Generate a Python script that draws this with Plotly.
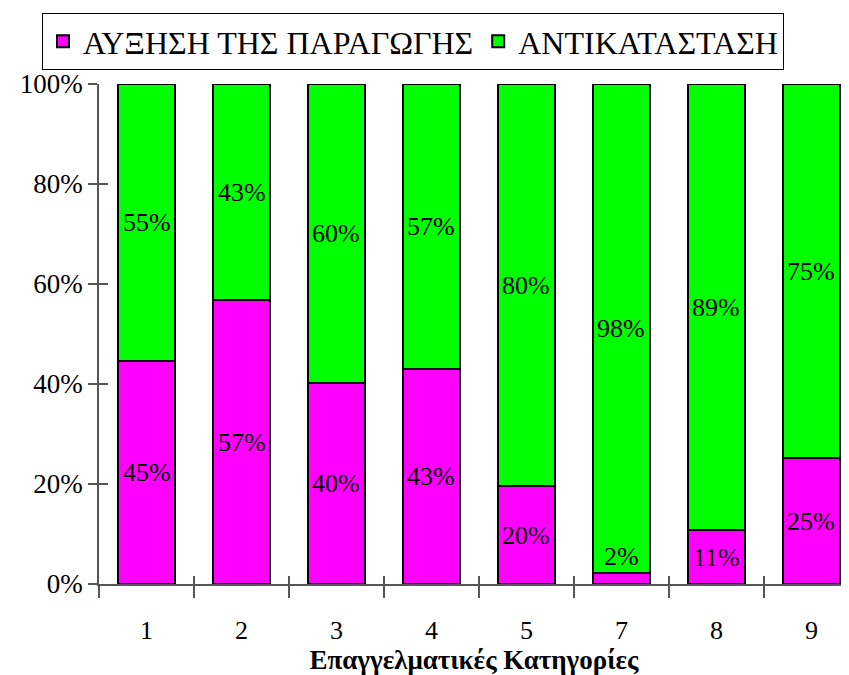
import plotly.graph_objects as go

categories = ["1", "2", "3", "4", "5", "7", "8", "9"]
auxisi = [44.6, 56.8, 40.2, 43.0, 19.6, 2.2, 10.8, 25.2]
antikatastasi = [55.4, 43.2, 59.8, 57.0, 80.4, 97.8, 89.2, 74.8]
y_ticks = [0, 20, 40, 60, 80, 100]
y_ticktext = ["0%", "20%", "40%", "60%", "80%", "100%"]

FONT = "Times New Roman, Liberation Serif, serif"
MAGENTA = "#ff00ff"
GREEN = "#00ff00"

fig = go.Figure()
fig.add_trace(go.Bar(x=categories, y=auxisi, name="ΑΥΞΗΣΗ ΤΗΣ ΠΑΡΑΓΩΓΗΣ",
                     marker=dict(color=MAGENTA, line=dict(color="black", width=2))))
fig.add_trace(go.Bar(x=categories, y=antikatastasi, name="ΑΝΤΙΚΑΤΑΣΤΑΣΗ",
                     marker=dict(color=GREEN, line=dict(color="black", width=2))))

# percentage labels (x as category index)
for i, (a, b) in enumerate(zip(auxisi, antikatastasi)):
    if a < 5:
        fig.add_annotation(x=i, y=a, text=f"{round(a)}%", showarrow=False,
                           yanchor="bottom", font=dict(size=26, family=FONT, color="black"))
    else:
        fig.add_annotation(x=i, y=a / 2, text=f"{round(a)}%", showarrow=False,
                           font=dict(size=26, family=FONT, color="black"))
    fig.add_annotation(x=i, y=a + b / 2, text=f"{round(b)}%", showarrow=False,
                       font=dict(size=26, family=FONT, color="black"))

# invisible helper trace for the crossing ticks
fig.add_trace(go.Bar(x=categories, y=[0] * len(categories), xaxis="x2", yaxis="y2",
                     showlegend=False, hoverinfo="skip", marker=dict(color="rgba(0,0,0,0)")))

# page has an 8px body margin, so the figure is 8px smaller than the window
xr = [-0.5, 7.395]
fig.update_layout(
    width=841, height=667,
    barmode="stack", bargap=0.4,
    plot_bgcolor="white", paper_bgcolor="white",
    margin=dict(l=91, r=0, t=76, b=91, autoexpand=False),
    font=dict(family=FONT, size=26, color="black"),
    xaxis=dict(type="category", range=xr, tickson="boundaries", ticks="outside",
               ticklen=12, tickcolor="#555", tickwidth=1.5, automargin=False,
               showline=True, linecolor="#555", linewidth=1.5, showgrid=False,
               ticklabelstandoff=22, tickfont=dict(size=26, family=FONT),
               title=dict(text="<b>Επαγγελματικές Κατηγορίες</b>", standoff=4,
                          font=dict(size=27, family=FONT))),
    yaxis=dict(range=[0, 100], tickvals=y_ticks, ticktext=y_ticktext, ticks="outside",
               ticklen=9, tickcolor="#555", tickwidth=1.5, automargin=False,
               showline=True, linecolor="#555", linewidth=1.5, showgrid=False,
               zeroline=False, tickfont=dict(size=27, family=FONT)),
    xaxis2=dict(type="category", range=xr, overlaying="x", tickson="boundaries",
                ticks="inside", ticklen=8, tickcolor="#555", tickwidth=1.5,
                showticklabels=False, showgrid=False, showline=False),
    yaxis2=dict(range=[0, 100], overlaying="y", tickvals=y_ticks, ticks="inside",
                ticklen=9, tickcolor="#555", tickwidth=1.5, showticklabels=False,
                showgrid=False, zeroline=False, showline=False),
    legend=dict(orientation="h", x=-0.076, y=1.142, xanchor="left", yanchor="top",
                bordercolor="black", borderwidth=1, bgcolor="white",
                font=dict(size=32, family=FONT), traceorder="normal"),
)

fig.write_html("out.html")
